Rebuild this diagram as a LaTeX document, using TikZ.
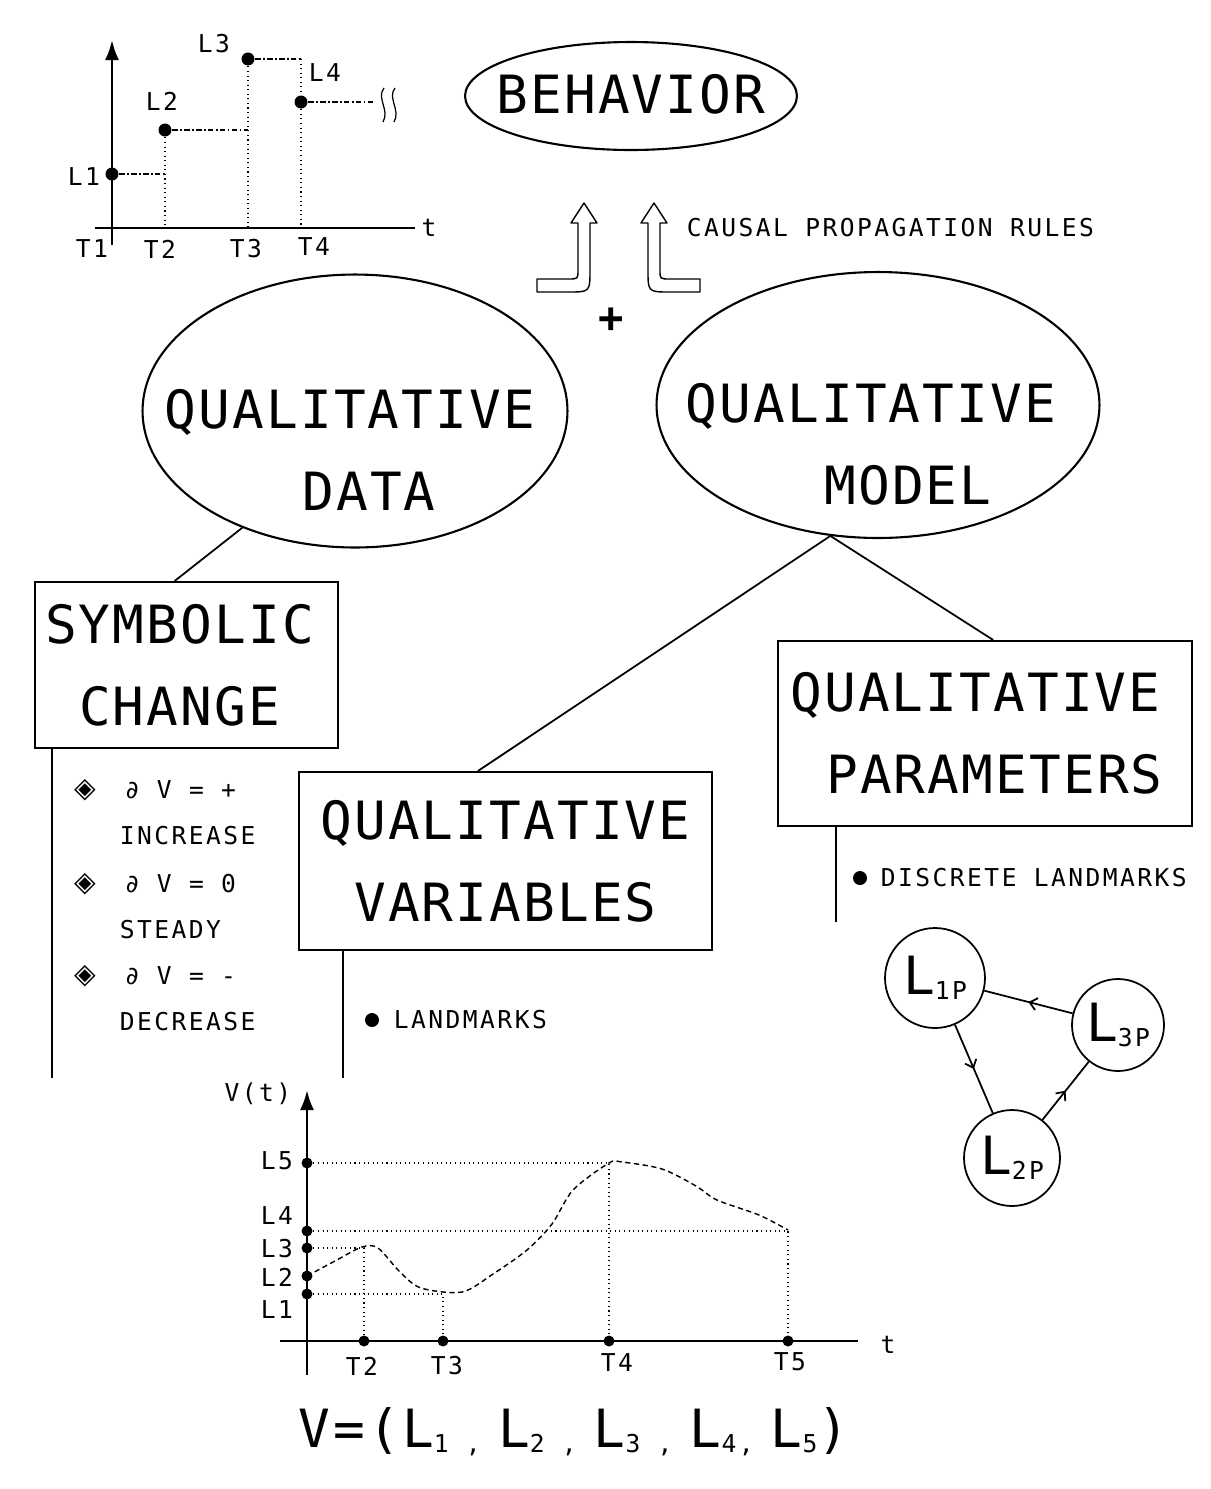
\documentclass[tikz,border=0pt]{standalone}
\usepackage{fontspec}
\setmainfont{DejaVu Sans Mono}
\newfontfamily\plotfont[LetterSpace=4]{DejaVu Sans Mono}
\newfontfamily\plotsmall[LetterSpace=10]{DejaVu Sans Mono}
\newfontfamily\symfont{DejaVu Sans}
\newcommand\qbig{\plotfont\fontsize{30}{46.5}\selectfont}
\newcommand\qsmall{\plotsmall\fontsize{14}{17}\selectfont}
\newcommand\qsub[1]{\raisebox{-3pt}{\qsmall #1}}
\usetikzlibrary{positioning,shapes.geometric,arrows.meta,decorations.markings,calc}

\begin{document}
\begin{tikzpicture}[x=0.02cm, y=-0.02cm, line width=1pt,
    oval/.style={draw, ellipse, line width=1.2pt, inner sep=0pt},
    box/.style={draw, rectangle, line width=1.2pt, inner sep=0pt, align=center, font=\qbig},
    bigtext/.style={font=\qbig, align=center, inner sep=0pt},
    lbl/.style={font=\qsmall, inner sep=0pt},
    dot/.style={circle, fill, inner sep=0pt, minimum size=0.26cm},
    axis/.style={line width=1.6pt},
    guide/.style={line width=0.6pt, dash pattern=on 0.6pt off 2pt},
    dashdot/.style={line width=0.6pt, dash pattern=on 3pt off 1.5pt on 0.8pt off 1.5pt},
    curve/.style={line width=0.8pt, dash pattern=on 3pt off 2pt},
    level/.style={draw, circle, line width=1pt, inner sep=0pt, font=\qbig},
    midarrow/.style={postaction={decorate}, decoration={markings,
        mark=at position 0.5 with {\arrow{Straight Barb[length=4pt,width=7pt]}}}},
    hollow/.style={line width=0.8pt, line join=round}]
  \useasboundingbox (0,0) rectangle (1211,1489);

  % step graph, top left
  \coordinate (o1) at (112,228);
  \coordinate (xend1) at (415,228);
  \coordinate (xstart1) at (95,228);
  \coordinate (ytop1) at (112,40);
  \coordinate (ybot1) at (112,245);
  \draw[axis] (xstart1) -- (xend1);
  \draw[axis, -{Latex[length=0.4cm,width=0.28cm]}] (ybot1) -- (ytop1);
  \node[dot] (s1) at (112,174) {};
  \node[dot] (s2) at (165,130) {};
  \node[dot] (s3) at (248,59) {};
  \node[dot] (s4) at (301,102) {};
  \draw[dashdot] (s1) -- (s1 -| s2);
  \draw[dashdot] (s2) -- (s2 -| s3);
  \draw[dashdot] (s3) -- (s3 -| s4) coordinate (c34);
  \draw[dashdot] (s4) -- ++(74,0) coordinate (brk);
  \draw[guide] (s2) -- (s2 |- o1);
  \draw[guide] (s3) -- (s3 |- o1);
  \draw[guide] (c34) -- (c34 |- o1);
  \draw[line width=0.7pt] (384,88) .. controls (376,98) and (390,110) .. (383,122);
  \draw[line width=0.7pt] (395,88) .. controls (387,98) and (401,110) .. (394,122);
  \node[lbl] (sl1) at (84,177) {L1};
  \node[lbl] (sl2) at (162,101) {L2};
  \node[lbl] (sl3) at (214,44) {L3};
  \node[lbl] (sl4) at (325,73) {L4};
  \node[lbl] (st1) at (92,249) {T1};
  \node[lbl] (st2) at (160,249) {T2};
  \node[lbl] (st3) at (246,249) {T3};
  \node[lbl] (st4) at (314,247) {T4};
  \node[lbl] (stt) at (429,228) {t};

  % behavior and the two sources
  \node[oval, minimum width=6.64cm, minimum height=2.16cm] (behav) at (631,96) {};
  \node[bigtext] (behavtxt) at (631,94) {BEHAVIOR};
  \draw[hollow] (584,203) -- (597,223) -- (590,223) -- (590,270) .. controls (590,292) .. (568,292)
    -- (537,292) -- (537,279) -- (568,279) .. controls (578,279) .. (578,270) -- (578,223) -- (571,223) -- cycle;
  \draw[hollow] (654,203) -- (667,223) -- (660,223) -- (660,270) .. controls (660,279) .. (670,279)
    -- (700,279) -- (700,292) -- (670,292) .. controls (648,292) .. (648,270) -- (648,223) -- (641,223) -- cycle;
  \node[lbl, anchor=west] (rules) at (686,228) {CAUSAL PROPAGATION RULES};
  \node[inner sep=0pt, font=\plotfont\fontsize{24}{24}\selectfont\bfseries] (plus) at (611,320) {+};

  \node[oval, minimum width=8.5cm, minimum height=5.46cm] (data) at (355,411) {};
  \node[bigtext] (datatxt) at (350,450) {QUALITATIVE\\\hspace*{0.76cm}DATA};
  \node[oval, minimum width=8.86cm, minimum height=5.32cm] (model) at (878,405) {};
  \node[bigtext] (modeltxt) at (879,444) {QUALITATIVE\hspace*{0.32cm}\\\hspace*{1.16cm}MODEL};

  % boxes
  \node[box, minimum width=6.06cm, minimum height=3.32cm] (symb) at (186.5,665)
    {SYMBOLIC\hspace*{0.28cm}\\CHANGE\hspace*{0.28cm}};
  \node[box, minimum width=8.26cm, minimum height=3.56cm] (vars) at (505.5,861) {QUALITATIVE\\VARIABLES};
  \node[box, minimum width=8.28cm, minimum height=3.7cm] (params) at (985,733.5)
    {QUALITATIVE\hspace*{0.38cm}\\\hspace*{0.38cm}PARAMETERS};
  \draw (data.226) -- (symb.98);
  \draw (model.250) -- (vars.107);
  \draw (model.250) -- (params.85);

  \coordinate (symbend) at (52,1078);
  \coordinate (varsend) at (343,1078);
  \coordinate (paramsend) at (836,922);
  \draw (symb.south -| symbend) -- (symbend);
  \draw (vars.south -| varsend) -- (varsend);
  \draw (params.south -| paramsend) -- (paramsend);

  % symbolic changes
  \foreach \y/\sgn/\word in {790/+/INCREASE, 884/0/STEADY, 976/-/DECREASE}{
    \node[font=\symfont\fontsize{16}{16}\selectfont, inner sep=0pt] at (85,\y) {◈};
    \node[lbl, anchor=west] at (124,\y) {∂ V = \sgn};
    \node[lbl, anchor=west] at (119,\y+46) {\word};
  }
  \node[dot, minimum size=0.28cm] (lmkdot) at (372,1020) {};
  \node[lbl, anchor=west] (lmk) at (393,1020) {LANDMARKS};
  \node[dot, minimum size=0.28cm] (dlmkdot) at (860,878) {};
  \node[lbl, anchor=west] (dlmk) at (880,878) {DISCRETE LANDMARKS};

  % landmark cycle
  \node[level, minimum size=2cm] (l1p) at (935,978) {L\qsub{1P}};
  \node[level, minimum size=1.84cm] (l3p) at (1118,1025) {L\qsub{3P}};
  \node[level, minimum size=1.92cm] (l2p) at (1012,1158) {L\qsub{2P}};
  \draw[midarrow] (l3p) -- (l1p);
  \draw[midarrow] (l1p) -- (l2p);
  \draw[midarrow] (l2p) -- (l3p);

  % landmark graph, bottom
  \coordinate (o2) at (307,1341);
  \coordinate (xstart2) at (280,1341);
  \coordinate (xend2) at (858,1341);
  \coordinate (ytop2) at (307,1090);
  \coordinate (ybot2) at (307,1375);
  \draw[axis] (xstart2) -- (xend2);
  \draw[axis, -{Latex[length=0.4cm,width=0.28cm]}] (ybot2) -- (ytop2);
  \foreach \n/\y in {1/1294, 2/1276, 3/1248, 4/1231, 5/1163}
    \node[dot, minimum size=0.22cm] (v\n) at (307,\y) {};
  \foreach \n/\x in {2/364, 3/443, 4/609, 5/788}
    \node[dot, minimum size=0.22cm] (u\n) at (\x,1341) {};
  \draw[guide] (v5) -- (v5 -| u4) -- (u4);
  \draw[guide] (v4) -- (v4 -| u5) -- (u5);
  \draw[guide] (v3) -- (v3 -| u2) -- (u2);
  \draw[guide] (v1) -- (v1 -| u3) -- (u3);
  \draw[curve] plot[smooth, tension=0.5] coordinates {(307,1276) (335,1261) (362,1247) (378,1248)
    (400,1272) (421,1288) (462,1292) (493,1274) (527,1250) (552,1224) (573,1190) (609,1163)
    (622,1162) (662,1169) (696,1186) (717,1200) (759,1215) (788,1230)};
  \node[lbl] (vt) at (258,1094) {V(t)};
  \node[lbl] (bl5) at (277,1161) {L5};
  \node[lbl] (bl4) at (277,1216) {L4};
  \node[lbl] (bl3) at (277,1249) {L3};
  \node[lbl] (bl2) at (277,1277) {L2};
  \node[lbl] (bl1) at (277,1310) {L1};
  \node[lbl] (bt2) at (362,1366) {T2};
  \node[lbl] (bt3) at (447,1366) {T3};
  \node[lbl] (bt4) at (617,1363) {T4};
  \node[lbl] (bt5) at (790,1362) {T5};
  \node[lbl] (btt) at (888,1345) {t};

  \node[bigtext] (vec) at (574,1432)
    {V\hspace{0.06cm}=\hspace{0.06cm}(L\qsub{1 , }L\qsub{2 , }L\qsub{3 , }L\qsub{4, }L\qsub{5})};
\end{tikzpicture}
\end{document}
